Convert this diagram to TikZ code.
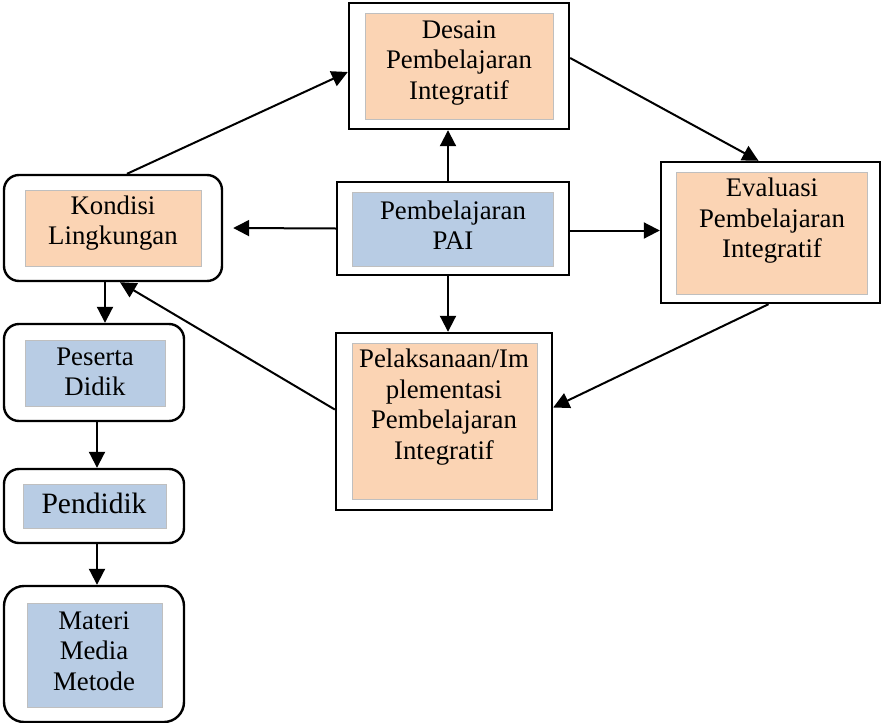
\documentclass[tikz,border=0pt]{standalone}
\usepackage{fontspec}
\setmainfont{Liberation Serif}
\usepackage{xcolor}
\usetikzlibrary{arrows.meta}

\definecolor{peach}{HTML}{FBD4B4}
\definecolor{paleblue}{HTML}{B8CCE4}

\begin{document}
\begin{tikzpicture}[x=1pt,y=-1pt,
	outerbox/.style={draw, line width=2.4pt, inner sep=0pt, fill=white},
	roundbox/.style={outerbox, rounded corners=15pt},
	peachfill/.style={fill=peach, draw=black!25, line width=0.6pt, inner sep=0pt},
	bluefill/.style={fill=paleblue, draw=black!25, line width=0.6pt, inner sep=0pt},
	lbl/.style={align=center, inner sep=0pt, font=\fontsize{26.8}{30.5}\selectfont},
	arr/.style={line width=2pt, -{Triangle[length=16pt,width=16pt]}}]

	\useasboundingbox (0,0) rectangle (881,723);

	\node[outerbox, minimum width=220pt, minimum height=126pt] (desain) at (459,66) {};
	\node[peachfill, minimum width=188pt, minimum height=106pt] (desainfill) at (459,66) {};
	\node[lbl] (desaintxt) at (459,63) {Desain\\Pembelajaran\\Integratif};

	\node[outerbox, minimum width=232pt, minimum height=93pt] (pai) at (453,228.5) {};
	\node[bluefill, minimum width=201pt, minimum height=74pt] (paifill) at (452.5,229) {};
	\node[lbl] (paitxt) at (453,225) {Pembelajaran\\PAI};

	\node[roundbox, minimum width=218pt, minimum height=106pt] (kondisi) at (113,228) {};
	\node[peachfill, minimum width=176pt, minimum height=76pt] (kondisifill) at (113,228) {};
	\node[lbl] (kondisitxt) at (113,223) {Kondisi\\Lingkungan};

	\node[outerbox, minimum width=219pt, minimum height=141pt] (evaluasi) at (770.5,232.5) {};
	\node[peachfill, minimum width=191pt, minimum height=122pt] (evaluasifill) at (771.5,233) {};
	\node[lbl] (evaluasitxt) at (772,221) {Evaluasi\\Pembelajaran\\Integratif};

	\node[outerbox, minimum width=216pt, minimum height=177pt] (pelaksanaan) at (444,421.5) {};
	\node[peachfill, minimum width=185pt, minimum height=156pt] (pelaksanaanfill) at (444.5,421) {};
	\node[lbl] (pelaksanaantxt) at (444,407) {Pelaksanaan/Im\\plementasi\\Pembelajaran\\Integratif};

	\node[roundbox, minimum width=180pt, minimum height=97pt] (peserta) at (94,372.5) {};
	\node[bluefill, minimum width=140pt, minimum height=66pt] (pesertafill) at (95,373) {};
	\node[lbl] (pesertatxt) at (95,372) {Peserta\\Didik};

	\node[roundbox, minimum width=180pt, minimum height=74pt] (pendidik) at (94,506) {};
	\node[bluefill, minimum width=143pt, minimum height=44pt] (pendidikfill) at (94.5,506) {};
	\node[lbl, font=\fontsize{29.5}{33}\selectfont] (pendidiktxt) at (94,503) {Pendidik};

	\node[roundbox, rounded corners=20pt, minimum width=180pt, minimum height=136pt] (materi) at (94,654) {};
	\node[bluefill, minimum width=135pt, minimum height=104pt] (materifill) at (94.5,655) {};
	\node[lbl] (materitxt) at (94,651) {Materi\\Media\\Metode};

	\draw[arr] ([xshift=14pt]kondisi.north) -- ([yshift=-6pt]desain.west);
	\draw[arr] ([yshift=8pt]desain.east) -- ([xshift=-12pt]evaluasi.north);
	\draw[arr] ([xshift=-5pt]pai.north) -- ([xshift=-11pt]desain.south);
	\draw[arr] (pai.west) -- ([xshift=10pt]kondisi.east);
	\draw[arr] ([yshift=-2pt]pai.east) -- ([yshift=-2pt]pai.east -| evaluasi.west);
	\draw[arr] ([xshift=-5pt]pai.south) -- ([xshift=4pt]pelaksanaan.north);
	\draw[arr] ([xshift=-2pt]evaluasi.south) -- ([yshift=14pt]pelaksanaan.east);
	\draw[arr] ([yshift=12pt]pelaksanaan.west) -- ([xshift=7pt]kondisi.south);
	\draw[arr] ([xshift=-8pt]kondisi.south) -- ([xshift=11pt]peserta.north);
	\draw[arr] ([xshift=3pt]peserta.south) -- ([xshift=3pt]pendidik.north);
	\draw[arr] ([xshift=3pt]pendidik.south) -- ([xshift=3pt]materi.north);

\end{tikzpicture}
\end{document}
